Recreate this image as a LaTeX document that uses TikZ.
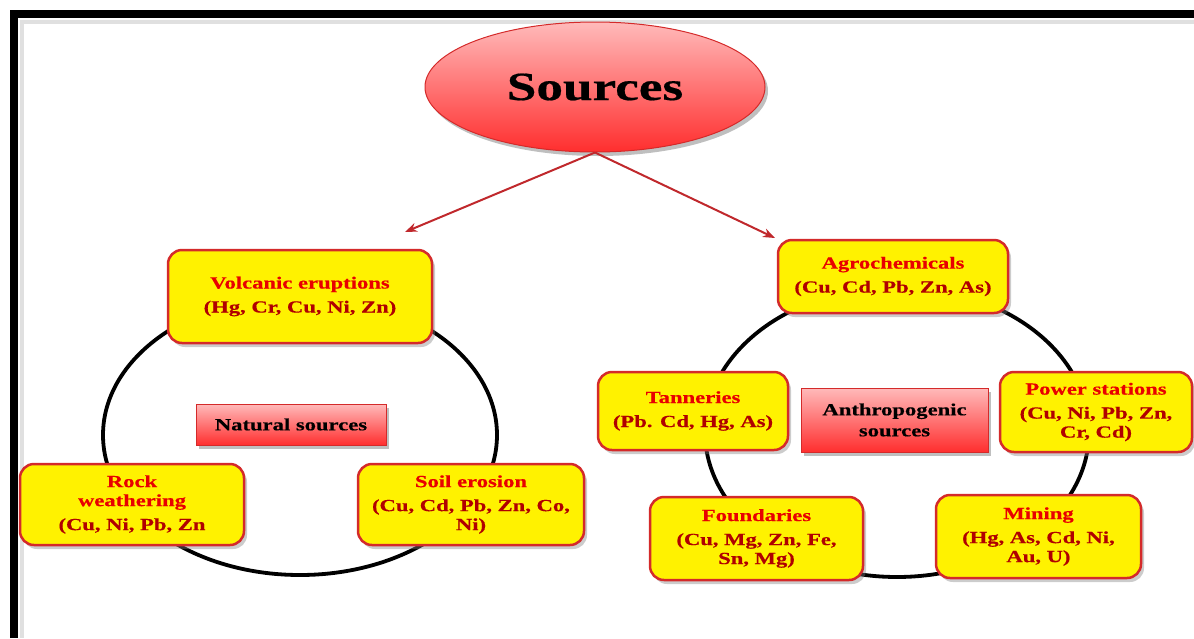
\documentclass[tikz,border=0pt]{standalone}
\usepackage{fontspec}
\setmainfont[FakeStretch=1.33, BoldFeatures={FakeBold=0.5}]{Liberation Serif}
\usetikzlibrary{shapes.geometric,shadows,arrows.meta}
\definecolor{boxred}{HTML}{D42A2A}
\definecolor{txtred}{HTML}{E80000}
\definecolor{listred}{HTML}{B00000}
\definecolor{pinktop}{HTML}{FFBABA}
\definecolor{redbot}{HTML}{FF2E2E}
\definecolor{arrowred}{HTML}{C0282C}
\begin{document}
\begin{tikzpicture}[x=1pt, y=-1pt,
                    every node/.style={align=center},
                    metal/.style={rectangle, rounded corners=14pt, draw=boxred, line width=2.5pt,
                                  fill=yellow, text=txtred, inner sep=2pt,
                                  font=\bfseries\fontsize{17}{24}\selectfont,
                                  drop shadow={shadow xshift=3pt, shadow yshift=-4pt, opacity=0.4}},
                    group/.style={rectangle, draw=boxred, line width=1pt, top color=pinktop, bottom color=redbot,
                                  font=\bfseries\fontsize{17}{21}\selectfont,
                                  drop shadow={shadow xshift=3pt, shadow yshift=-4pt, opacity=0.5}},
                    ring/.style={draw=black, line width=3.8pt},
                    link/.style={-{Stealth[length=12pt, width=9pt]}, draw=arrowred, line width=2pt}]
  \useasboundingbox (0,0) rectangle (1194,638);
  % frame
  \draw[line width=4pt, black!12] (22,638) -- (22,22) -- (1194,22);
  \draw[line width=8pt] (14,638) -- (14,14) -- (1194,14);
  % rings
  \draw[ring] (300,435) ellipse [x radius=197pt, y radius=140pt];
  \draw[ring] (897,432) ellipse [x radius=192pt, y radius=145pt];
  % top
  \node[ellipse, minimum width=340pt, minimum height=130pt, draw=boxred, line width=1pt,
        top color=pinktop, bottom color=redbot, font=\bfseries\fontsize{40}{40}\selectfont,
        drop shadow={shadow xshift=3pt, shadow yshift=-4pt, opacity=0.5}] (sources) at (595,87) {Sources};
  \coordinate (natural tip) at (405,232);
  \coordinate (anthro tip) at (775,238);
  \draw[link] (sources.south) -- (natural tip);
  \draw[link] (sources.south) -- (anthro tip);
  % natural sources
  \node[metal, minimum width=264pt, minimum height=93pt] (volcanic) at (300,296.5)
    {Volcanic eruptions\\\textcolor{listred}{(Hg, Cr, Cu, Ni, Zn)}};
  \node[group, minimum width=190pt, minimum height=41pt] (natural) at (291,424.5) {Natural sources};
  \node[metal, minimum width=224pt, minimum height=81pt] (rock) at (132,504.5)
    {Rock\\[-5pt]weathering\\\textcolor{listred}{(Cu, Ni, Pb, Zn}};
  \node[metal, minimum width=226pt, minimum height=81pt] (soil) at (471,504.5)
    {Soil erosion\\\textcolor{listred}{(Cu, Cd, Pb, Zn, Co,}\\[-5pt]\textcolor{listred}{Ni)}};
  % anthropogenic sources
  \node[metal, minimum width=230pt, minimum height=73pt] (agro) at (893,276.5)
    {Agrochemicals\\\textcolor{listred}{(Cu, Cd, Pb, Zn, As)}};
  \node[metal, minimum width=190pt, minimum height=78pt] (tanneries) at (693,411)
    {Tanneries\\\textcolor{listred}{(Pb. Cd, Hg, As)}};
  \node[group, minimum width=187pt, minimum height=64pt] (anthro) at (894.5,420)
    {Anthropogenic\\sources};
  \node[metal, minimum width=192pt, minimum height=80pt] (power) at (1096,412)
    {Power stations\\\textcolor{listred}{(Cu, Ni, Pb, Zn,}\\[-5pt]\textcolor{listred}{Cr, Cd)}};
  \node[metal, minimum width=213pt, minimum height=83pt] (foundaries) at (756.5,538.5)
    {Foundaries\\\textcolor{listred}{(Cu, Mg, Zn, Fe,}\\[-5pt]\textcolor{listred}{Sn, Mg)}};
  \node[metal, minimum width=205pt, minimum height=83pt] (mining) at (1038.5,536.5)
    {Mining\\\textcolor{listred}{(Hg, As, Cd, Ni,}\\[-5pt]\textcolor{listred}{Au, U)}};
\end{tikzpicture}
\end{document}
